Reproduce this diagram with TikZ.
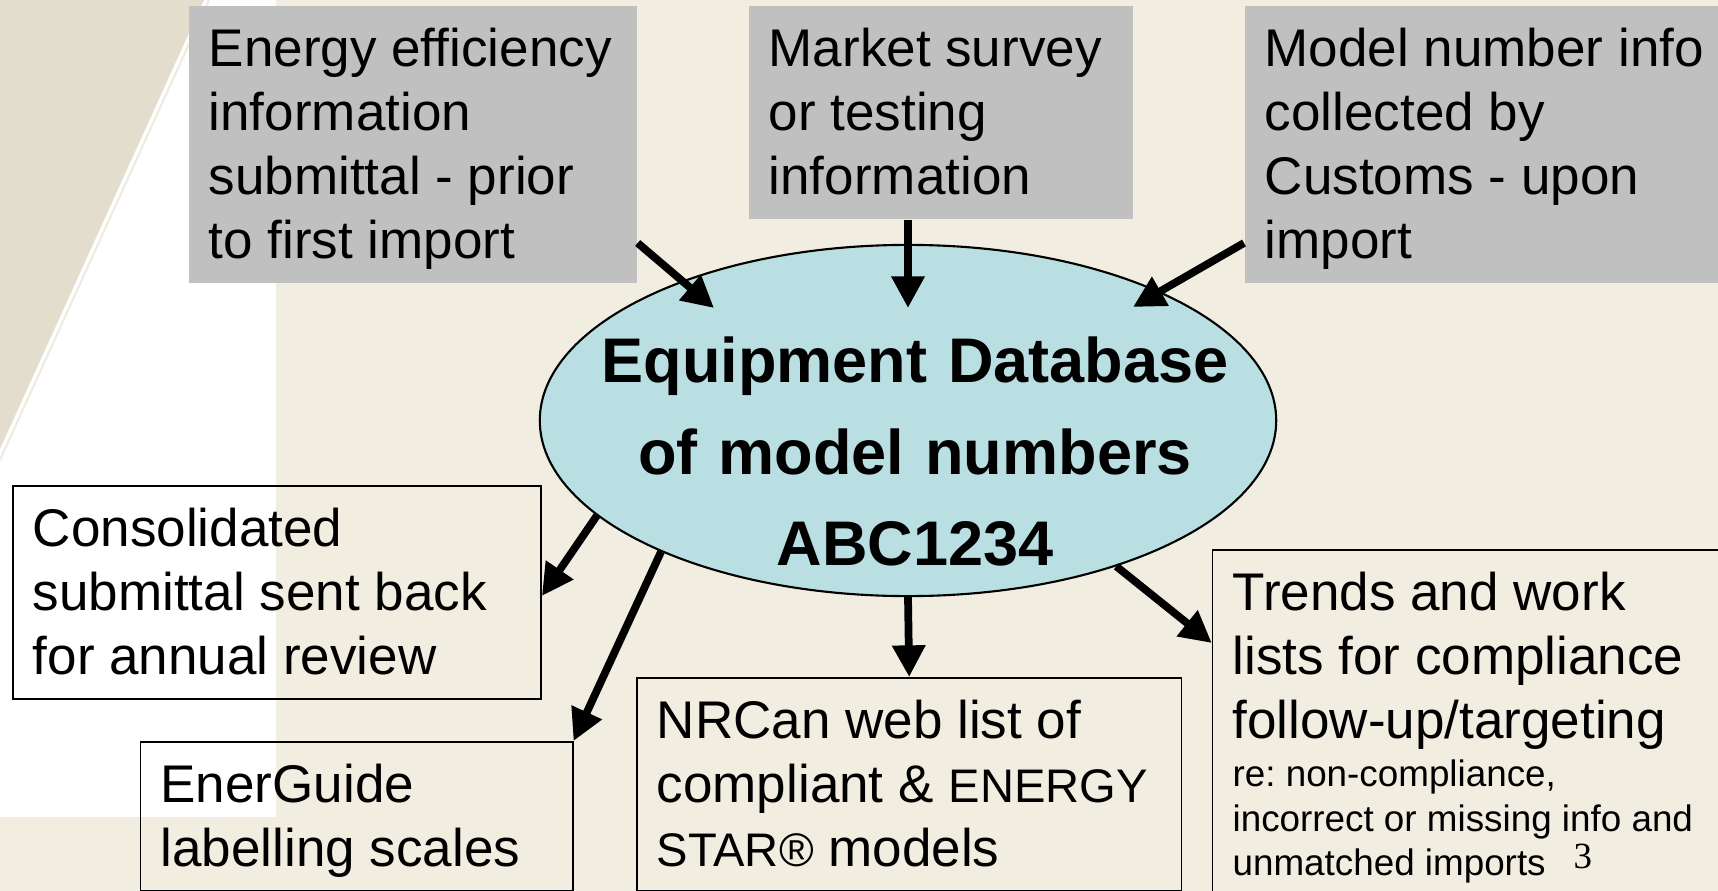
\documentclass[tikz,border=0pt]{standalone}
\usepackage{fontspec}
\setmainfont{Liberation Sans}
\newfontfamily\slidenumfont{Liberation Serif}
\usepackage{xcolor}
\usetikzlibrary{arrows.meta,shapes.geometric,calc}

\definecolor{pagecream}{RGB}{241,237,224}
\definecolor{cornerbeige}{RGB}{227,221,205}
\definecolor{srcgray}{RGB}{192,192,192}
\definecolor{dbblue}{RGB}{185,223,227}

\newcommand{\boxfont}{\fontsize{15.08pt}{18.21pt}\selectfont}
\newcommand{\dbfont}{\fontsize{17.93pt}{26.09pt}\selectfont\bfseries}
\newcommand{\notefont}{\fontsize{10.47pt}{12.66pt}\selectfont}
\newcommand{\starfont}{\fontsize{13.4pt}{18.21pt}\selectfont}

\begin{document}
\begin{tikzpicture}[x=0.01cm, y=-0.01cm,
  source/.style={rectangle, fill=srcgray, anchor=north west, align=flush left,
                 inner xsep=0.2cm, inner ysep=0.05cm, font=\boxfont,
                 execute at begin node={\frenchspacing\noindent\rule{0pt}{0.56cm}},
                 execute at end node={\rule[-0.19cm]{0pt}{0.19cm}}},
  output/.style={source, fill=none, draw, line width=0.45pt},
  database/.style={ellipse, draw, fill=dbblue, line width=0.6pt,
                   minimum width=7.36cm, minimum height=3.51cm, inner sep=0pt},
  dbtitle/.style={anchor=north, align=center, text width=7cm, inner sep=0pt,
                  font=\dbfont, execute at begin node={\rule{0pt}{0.5cm}}},
  arrow/.style={line width=2.2pt, -{Triangle[length=9pt, width=9pt]}}
]

% Background
\clip (0,0) rectangle (1718,891);
\fill[pagecream] (0,0) rectangle (1718,891);
\fill[white] (0,0) rectangle (276,817);
\fill[cornerbeige] (0,0) -- (204,0) -- (0,449) -- cycle;
\draw[cornerbeige!60, line width=0.6pt] (209,0) -- (0,460);

% Sources of model numbers
\node[source, text width=4.08cm] (efile) at (188,5) {Energy efficiency\\ information\\ submittal - prior\\ to first import};
\node[source, text width=3.44cm] (survey) at (748,5) {Market survey\\ or testing\\ information};
\node[source, text width=4.6cm] (customs) at (1244,5) {Model number info\\ collected by\\ Customs - upon\\ import};

% Central database
\node[database] (db) at (908,420.5) {};
\node[dbtitle] (dbtext) at ([shift={(7,-88.8)}]db.center) {Equipment Database\\ of model numbers\\ ABC1234};

% Uses of the database
\node[output, text width=4.88cm] (annual) at (12,485) {Consolidated\\ submittal sent back\\ for annual review};
\node[output, text width=3.92cm] (label) at (139.7,741) {EnerGuide\\ labelling scales};
\node[output, text width=5.045cm] (weblist) at (636,677) {NRCan web list of\\ compliant \& {\starfont ENERGY}\\ {\starfont STAR®} models};
\node[output, text width=4.8cm] (trends) at (1211.8,549) {Trends and work\\ lists for compliance\\ follow-up/targeting\par\vspace{0.035cm}\noindent\notefont re: non-compliance,\\ incorrect or missing info and\\ unmatched imports\par};

% Slide number
\node[anchor=base west, inner sep=0pt, font=\slidenumfont\fontsize{10.5pt}{12pt}\selectfont] (slidenum) at (1573,868) {3};

% Arrows - into the database
\draw[arrow] ([shift={(0,238)}]efile.north east) -- ([shift={(-194,-112.5)}]db.center);
\draw[arrow] (survey.south -| db.center) -- ([shift={(0,-112.5)}]db.center);
\draw[arrow] ([shift={(0,238)}]customs.north west) -- ([shift={(225,-113.5)}]db.center);

% Arrows - out of the database
\draw[arrow] (db.197.5) -- ([shift={(0,111)}]annual.north east);
\draw[arrow] (db.208) -- (label.north east);
\draw[arrow] (db.south) -- (weblist.north);
\draw[arrow] (db.325.5) -- ([shift={(0,94)}]trends.north west);

\end{tikzpicture}
\end{document}
